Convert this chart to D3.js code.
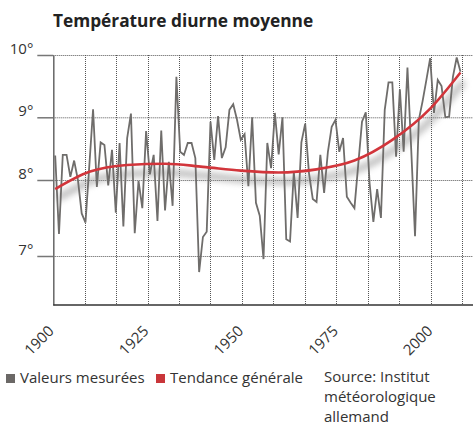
<!DOCTYPE html>
<html>
<head>
<meta charset="utf-8">
<script src="https://cdn.jsdelivr.net/npm/d3@7"></script>
<style>
  body { margin: 0; background: #fff; }
  text { font-family: "Open Sans", sans-serif; fill: #333; }
</style>
</head>
<body>
<div class="chart"></div>
<script>
const years = d3.range(1901, 2009);
const temps = [
  8.39, 7.29, 8.40, 8.40, 8.05, 8.31, 8.00, 7.56, 7.44, 8.22,
  9.13, 7.91, 8.60, 8.56, 7.93, 8.48, 7.57, 8.59, 7.39, 8.67,
  9.06, 7.30, 7.99, 7.63, 8.78, 8.09, 8.40, 7.46, 8.79, 7.60,
  8.29, 7.66, 9.65, 8.45, 8.40, 8.59, 8.59, 8.35, 6.79, 7.25,
  7.32, 8.93, 8.32, 9.02, 8.35, 8.52, 9.12, 9.21, 8.96, 8.64,
  8.73, 7.92, 9.00, 7.70, 7.53, 6.96, 8.59, 8.19, 9.07, 8.41,
  9.00, 7.22, 7.19, 8.13, 7.50, 8.60, 8.90, 8.11, 7.75, 7.71,
  8.40, 7.83, 8.45, 8.85, 8.96, 8.45, 8.67, 7.78, 7.70, 7.63,
  8.24, 8.93, 9.08, 7.96, 7.45, 7.88, 7.50, 9.12, 9.56, 9.56,
  8.37, 9.45, 8.45, 9.80, 8.48, 7.26, 8.96, 9.26, 9.60, 9.95,
  9.07, 9.60, 9.50, 9.00, 9.01, 9.65, 9.96, 9.73
];

// general trend
const trendYears  = [1901, 1910, 1920, 1930, 1940, 1950, 1960, 1970, 1980, 1990, 2000, 2008];
const trendValues = [7.88, 8.13, 8.24, 8.26, 8.21, 8.15, 8.12, 8.17, 8.31, 8.64, 9.14, 9.72];

const yTicks = [7, 8, 9, 10];
const xTicks = [1900, 1925, 1950, 1975, 2000];
const gridYears = [1900.5, 1908.8, 1917.1, 1925.4, 1933.7, 1942, 1950.3, 1958.6,
                   1966.9, 1975.2, 1983.5, 1991.8, 2000.1, 2008.4];

const W = 473, H = 426;
const svg = d3.select(".chart").append("svg")
    .attr("width", W)
    .attr("height", H);

const x = d3.scaleLinear().domain([1900.5, 2008.4]).range([53.3, 462]);
// the printed axis is not evenly spaced: follow it
const y = d3.scaleLinear().domain([6.36, 7, 8, 9, 10]).range([305, 256, 180, 117.3, 55]);

// title
svg.append("text")
    .attr("x", 53)
    .attr("y", 27)
    .attr("font-size", 17.3)
    .attr("font-weight", "bold")
    .style("fill", "#222")
    .text("Température diurne moyenne");

// grid
const grid = svg.append("g").attr("class", "grid")
    .attr("stroke", "#555")
    .attr("stroke-width", 1)
    .attr("stroke-dasharray", "1,1");

grid.selectAll(".hline")
    .data(yTicks)
    .join("line")
    .attr("x1", x.range()[0])
    .attr("x2", W)
    .attr("y1", d => y(d) + 0.5)
    .attr("y2", d => y(d) + 0.5);

grid.selectAll(".vline")
    .data(gridYears.slice(1))
    .join("line")
    .attr("x1", d => Math.round(x(d)) + 0.5)
    .attr("x2", d => Math.round(x(d)) + 0.5)
    .attr("y1", y(10))
    .attr("y2", y.range()[0]);

// shadow under the trend
const defs = svg.append("defs");
defs.append("filter")
    .attr("id", "soft")
    .attr("x", "-10%").attr("y", "-60%")
    .attr("width", "120%").attr("height", "220%")
  .append("feGaussianBlur")
    .attr("stdDeviation", 3);

const trendData = trendYears.map((yr, i) => ({year: yr, value: trendValues[i]}));
const trendLine = d3.line()
    .x(d => x(d.year))
    .y(d => y(d.value))
    .curve(d3.curveMonotoneX);

svg.append("path")
    .datum(trendData)
    .attr("d", trendLine)
    .attr("fill", "none")
    .attr("stroke", "#8c8c8c")
    .attr("stroke-width", 7)
    .attr("opacity", 0.55)
    .attr("filter", "url(#soft)")
    .attr("transform", "translate(3,9)");

// measured values
const measured = years.map((yr, i) => ({year: yr, value: temps[i]}));
svg.append("path")
    .datum(measured)
    .attr("d", d3.line().x(d => x(d.year)).y(d => y(d.value)))
    .attr("fill", "none")
    .attr("stroke", "#6f6d6b")
    .attr("stroke-width", 1.8);

// trend
svg.append("path")
    .datum(trendData)
    .attr("d", trendLine)
    .attr("fill", "none")
    .attr("stroke", "#d2353b")
    .attr("stroke-width", 2.6);

// axes
const yAxis = d3.axisLeft(y)
    .tickValues(yTicks)
    .tickSize(16)
    .tickSizeOuter(0)
    .tickFormat(d => d + "°");

const yAxisG = svg.append("g")
    .attr("class", "axis y-axis")
    .attr("transform", `translate(${x.range()[0]},0)`)
    .call(yAxis);

yAxisG.select(".domain").attr("stroke", "#666").attr("stroke-width", 1.5);
yAxisG.selectAll(".tick line").attr("stroke", "#777").attr("stroke-width", 1.5);
yAxisG.selectAll(".tick text")
    .attr("x", -20)
    .attr("dy", "-0.1em")
    .attr("font-size", 15)
    .attr("font-family", null)
    .style("fill", "#333");

const xAxis = d3.axisBottom(x)
    .tickValues(xTicks)
    .tickSize(0)
    .tickSizeOuter(0)
    .tickFormat(d3.format("d"));

const xAxisG = svg.append("g")
    .attr("class", "axis x-axis")
    .attr("transform", `translate(0,${y.range()[0]})`)
    .call(xAxis);

xAxisG.select(".domain").remove();
xAxisG.append("line")
    .attr("x1", x.range()[0])
    .attr("x2", W)
    .attr("stroke", "#333")
    .attr("stroke-width", 1.5);

xAxisG.selectAll(".tick text")
    .attr("font-size", 15)
    .attr("font-family", null)
    .attr("text-anchor", "end")
    .attr("y", 0)
    .attr("dy", 0)
    .attr("transform", "translate(3,27) rotate(-45)")
    .style("fill", "#333");

// legend
const legendItems = [
  {label: "Valeurs mesurées", color: "#6b6866", x: 6},
  {label: "Tendance générale", color: "#c9363a", x: 156}
];
const legend = svg.append("g").attr("class", "legend");
legend.selectAll("rect")
    .data(legendItems)
    .join("rect")
    .attr("x", d => d.x)
    .attr("y", 374)
    .attr("width", 9)
    .attr("height", 9)
    .attr("fill", d => d.color);
legend.selectAll("text")
    .data(legendItems)
    .join("text")
    .attr("x", d => d.x + 14)
    .attr("y", 383)
    .attr("font-size", 15)
    .text(d => d.label);

const sourceLines = ["Source: Institut", "météorologique", "allemand"];
svg.append("g").selectAll("text")
    .data(sourceLines)
    .join("text")
    .attr("x", 324)
    .attr("y", (d, i) => 382 + i * 20)
    .attr("font-size", 15)
    .text(d => d);
</script>
</body>
</html>
